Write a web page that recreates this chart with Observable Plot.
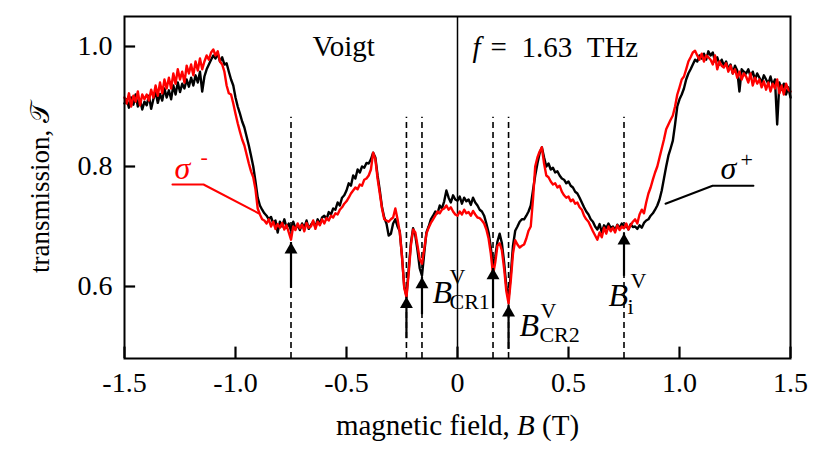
<!DOCTYPE html>
<html>
<head>
<meta charset="utf-8">
<script src="https://cdn.jsdelivr.net/npm/d3@7"></script>
<script src="https://cdn.jsdelivr.net/npm/@observablehq/plot@0.6"></script>
<style>
  html, body { margin: 0; padding: 0; background: white; }
</style>
</head>
<body>
<script>
// ---------- data ----------
const fieldStart = -1.5;   // T
const fieldStep = 0.01;    // T

// black trace (sigma+), B = -1.50 ... 1.50
const sigmaPlus = [
  0.905, 0.912, 0.898, 0.915, 0.903, 0.920, 0.900, 0.911, 0.895, 0.908,
  0.902, 0.918, 0.896, 0.912, 0.925, 0.906, 0.921, 0.910, 0.930, 0.915,
  0.927, 0.912, 0.935, 0.920, 0.940, 0.924, 0.938, 0.930, 0.945, 0.933,
  0.948, 0.935, 0.952, 0.940, 0.958, 0.925, 0.950, 0.962, 0.970, 0.978,
  0.985, 0.980, 0.988, 0.975, 0.982, 0.970, 0.972, 0.958, 0.945, 0.935,
  0.915, 0.900, 0.888, 0.875, 0.865, 0.850, 0.835, 0.818, 0.800, 0.775,
  0.748, 0.735, 0.728, 0.722, 0.718, 0.712, 0.716, 0.705, 0.710, 0.690,
  0.708, 0.700, 0.712, 0.698, 0.705, 0.693, 0.708, 0.697, 0.702, 0.694,
  0.705, 0.698, 0.710, 0.696, 0.703, 0.708, 0.699, 0.712, 0.704, 0.715,
  0.718, 0.712, 0.724, 0.720, 0.730, 0.728, 0.740, 0.735, 0.748, 0.752,
  0.760, 0.772, 0.768, 0.785, 0.780, 0.795, 0.790, 0.800, 0.798, 0.806,
  0.805, 0.812, 0.823, 0.815, 0.785, 0.760, 0.732, 0.715, 0.705, 0.685,
  0.688, 0.705, 0.712, 0.700, 0.692, 0.650, 0.600, 0.584, 0.628, 0.672,
  0.697, 0.685, 0.660, 0.630, 0.618, 0.655, 0.690, 0.700, 0.712, 0.718,
  0.725, 0.722, 0.735, 0.730, 0.742, 0.760, 0.748, 0.740, 0.752, 0.745,
  0.743, 0.750, 0.738, 0.748, 0.742, 0.745, 0.736, 0.748, 0.740, 0.735,
  0.728, 0.725, 0.718, 0.705, 0.690, 0.665, 0.635, 0.650, 0.675, 0.688,
  0.672, 0.640, 0.600, 0.580, 0.620, 0.668, 0.693, 0.700, 0.708, 0.712,
  0.712, 0.718, 0.725, 0.735, 0.760, 0.785, 0.805, 0.822, 0.832, 0.815,
  0.800, 0.805, 0.795, 0.798, 0.790, 0.792, 0.785, 0.780, 0.778, 0.772,
  0.775, 0.768, 0.765, 0.758, 0.755, 0.748, 0.740, 0.732, 0.725, 0.720,
  0.712, 0.708, 0.700, 0.695, 0.704, 0.690, 0.702, 0.697, 0.705, 0.698,
  0.700, 0.694, 0.703, 0.697, 0.705, 0.698, 0.702, 0.695, 0.704, 0.699,
  0.700, 0.696, 0.702, 0.698, 0.706, 0.710, 0.712, 0.718, 0.722, 0.728,
  0.735, 0.745, 0.760, 0.780, 0.800, 0.818, 0.830, 0.843, 0.870, 0.900,
  0.912, 0.920, 0.930, 0.945, 0.955, 0.962, 0.970, 0.978, 0.975, 0.985,
  0.980, 0.988, 0.978, 0.992, 0.985, 0.990, 0.975, 0.982, 0.970, 0.978,
  0.968, 0.975, 0.962, 0.970, 0.955, 0.968, 0.960, 0.925, 0.962, 0.958,
  0.955, 0.962, 0.950, 0.958, 0.945, 0.955, 0.948, 0.940, 0.952, 0.945,
  0.938, 0.950, 0.935, 0.945, 0.870, 0.940, 0.928, 0.938, 0.920, 0.932, 0.915
];

// red trace (sigma-), B = -1.50 ... 1.50
const sigmaMinus = [
  0.915, 0.905, 0.922, 0.900, 0.918, 0.908, 0.925, 0.902, 0.920, 0.912,
  0.920, 0.910, 0.928, 0.915, 0.935, 0.918, 0.940, 0.922, 0.945, 0.930,
  0.948, 0.930, 0.955, 0.938, 0.962, 0.945, 0.958, 0.940, 0.968, 0.955,
  0.970, 0.952, 0.975, 0.960, 0.980, 0.962, 0.975, 0.985, 0.978, 0.990,
  0.995, 0.985, 0.992, 0.975, 0.970, 0.958, 0.935, 0.922, 0.920, 0.905,
  0.888, 0.872, 0.858, 0.845, 0.835, 0.820, 0.805, 0.792, 0.782, 0.762,
  0.730, 0.720, 0.712, 0.710, 0.705, 0.712, 0.700, 0.708, 0.696, 0.704,
  0.698, 0.706, 0.695, 0.702, 0.690, 0.678, 0.700, 0.694, 0.705, 0.697,
  0.703, 0.692, 0.706, 0.698, 0.700, 0.710, 0.696, 0.708, 0.702, 0.712,
  0.705, 0.714, 0.710, 0.718, 0.715, 0.722, 0.720, 0.728, 0.732, 0.738,
  0.742, 0.748, 0.755, 0.760, 0.765, 0.762, 0.770, 0.768, 0.778, 0.780,
  0.785, 0.795, 0.823, 0.812, 0.780, 0.755, 0.730, 0.712, 0.710, 0.708,
  0.712, 0.715, 0.730, 0.712, 0.690, 0.650, 0.598, 0.582, 0.622, 0.668,
  0.695, 0.690, 0.668, 0.645, 0.638, 0.662, 0.688, 0.698, 0.706, 0.712,
  0.718, 0.725, 0.722, 0.728, 0.730, 0.735, 0.728, 0.732, 0.725, 0.720,
  0.718, 0.725, 0.720, 0.728, 0.722, 0.724, 0.718, 0.726, 0.720, 0.715,
  0.714, 0.710, 0.705, 0.695, 0.680, 0.655, 0.620, 0.640, 0.668, 0.672,
  0.660, 0.630, 0.592, 0.572, 0.610, 0.655, 0.677, 0.670, 0.665, 0.668,
  0.670, 0.680, 0.693, 0.700, 0.745, 0.800, 0.815, 0.825, 0.832, 0.805,
  0.785, 0.782, 0.775, 0.770, 0.772, 0.765, 0.768, 0.758, 0.752, 0.748,
  0.750, 0.742, 0.745, 0.738, 0.740, 0.732, 0.728, 0.718, 0.712, 0.708,
  0.700, 0.692, 0.685, 0.678, 0.690, 0.682, 0.698, 0.688, 0.700, 0.692,
  0.698, 0.690, 0.702, 0.694, 0.700, 0.697, 0.705, 0.695, 0.702, 0.708,
  0.712, 0.705, 0.720, 0.728, 0.722, 0.740, 0.755, 0.765, 0.778, 0.790,
  0.800, 0.815, 0.830, 0.845, 0.862, 0.870, 0.878, 0.885, 0.900, 0.920,
  0.932, 0.945, 0.950, 0.962, 0.975, 0.982, 0.990, 0.993, 0.985, 0.978,
  0.988, 0.975, 0.985, 0.982, 0.978, 0.970, 0.985, 0.962, 0.975, 0.968,
  0.965, 0.972, 0.958, 0.968, 0.955, 0.962, 0.948, 0.958, 0.945, 0.955,
  0.950, 0.940, 0.955, 0.935, 0.948, 0.938, 0.945, 0.932, 0.942, 0.928,
  0.940, 0.925, 0.938, 0.930, 0.945, 0.922, 0.935, 0.920, 0.938, 0.928, 0.925
];

// axes
const xDomain = [-1.5, 1.5];
const yDomain = [0.48, 1.05];
const xTicks = [-1.5, -1.0, -0.5, 0, 0.5, 1.0, 1.5];
const xTickLabels = ["-1.5", "-1.0", "-0.5", "0", "0.5", "1.0", "1.5"];
const yTicks = [0.6, 0.8, 1.0];
const yTickLabels = ["0.6", "0.8", "1.0"];
const xTickLength = 0.019;   // in transmission units (inward tick at bottom)
const yTickLength = 0.05;    // in tesla (inward tick at left)
const xLabelParts = ["magnetic field, ", "B", " (T)"];
const yLabel = "transmission, \u{1D4AF}";

// marker lines
const zeroLine = [0];
const dashedFields = [-0.75, -0.23, -0.16, 0.16, 0.23, 0.75];
const dashedTop = 0.882;

// arrows (field, tip, base)
const arrowField = [-0.75, -0.23, -0.16, 0.16, 0.23, 0.75];
const arrowTip   = [0.673, 0.582, 0.615, 0.630, 0.568, 0.688];
const arrowBase  = [0.607, 0.523, 0.563, 0.573, 0.505, 0.627];

// sigma label leader lines
const minusLeaderB = [-1.284, -1.144, -0.896];
const minusLeaderT = [0.770, 0.770, 0.722];
const plusLeaderB  = [0.937, 1.149, 1.333];
const plusLeaderT  = [0.738, 0.768, 0.768];

// text annotations
const voigtText = [{B: -0.653, T: 0.985, text: "Voigt"}];
const freqSymbol = [{B: 0.068, T: 0.982, text: "f"}];
const freqValue = [{B: 0.149, T: 0.982, text: "=\u20021.63\u2002THz"}];
const sigmaTexts = [
  {B: -1.275, T: 0.780, text: "\u03C3", color: "#ff0000"},
  {B: 1.185,  T: 0.780, text: "\u03C3", color: "black"}
];
const sigmaSups = [
  {B: -1.158, T: 0.805, text: "-", color: "#ff0000"},
  {B: 1.275,  T: 0.800, text: "+", color: "black"}
];
const fieldLabelMain = [
  {B: -0.113, T: 0.572, text: "B"},
  {B: 0.279,  T: 0.518, text: "B"},
  {B: 0.680,  T: 0.568, text: "B"}
];
const fieldLabelSup = [
  {B: -0.036, T: 0.605, text: "V"},
  {B: 0.374,  T: 0.548, text: "V"},
  {B: 0.779,  T: 0.598, text: "V"}
];
const fieldLabelSub = [
  {B: -0.036, T: 0.562, text: "CR1"},
  {B: 0.369,  T: 0.507, text: "CR2"},
  {B: 0.766,  T: 0.555, text: "i"}
];

// ---------- build tables ----------
const blackData = sigmaPlus.map((t, i) => ({B: fieldStart + i * fieldStep, T: t}));
const redData = sigmaMinus.map((t, i) => ({B: fieldStart + i * fieldStep, T: t}));
const arrows = arrowField.map((b, i) => ({B: b, tip: arrowTip[i], base: arrowBase[i]}));
const minusLeader = minusLeaderB.map((b, i) => ({B: b, T: minusLeaderT[i]}));
const plusLeader = plusLeaderB.map((b, i) => ({B: b, T: plusLeaderT[i]}));

const serif = "'Liberation Serif', 'Times New Roman', serif";

const chart = Plot.plot({
  width: 830,
  height: 459,
  marginLeft: 124,
  marginRight: 40,
  marginTop: 16,
  marginBottom: 101,
  x: {domain: xDomain},
  y: {domain: yDomain},
  style: {fontFamily: serif, fontSize: "28px", color: "black", background: "white", overflow: "visible"},
  marks: [
    Plot.axisX(xTicks, {tickSize: 0, tickPadding: 14, tickFormat: (d, i) => xTickLabels[i], label: null, fontSize: 28}),
    Plot.axisY(yTicks, {tickSize: 0, tickPadding: 12, tickFormat: (d, i) => yTickLabels[i], label: null, fontSize: 28}),
    // inward ticks
    Plot.ruleX(xTicks, {x: d => d, y1: () => yDomain[0], y2: () => yDomain[0] + xTickLength, stroke: "black", strokeWidth: 2.2}),
    Plot.ruleY(yTicks, {y: d => d, x1: () => xDomain[0], x2: () => xDomain[0] + yTickLength, stroke: "black", strokeWidth: 2.2}),
    // zero line and dashed markers
    Plot.ruleX(zeroLine, {stroke: "black", strokeWidth: 1.5}),
    Plot.ruleX(dashedFields, {y1: yDomain[0], y2: dashedTop, stroke: "black", strokeWidth: 1.6, strokeDasharray: "6,4"}),
    // data
    Plot.line(blackData, {x: "B", y: "T", stroke: "black", strokeWidth: 2.4}),
    Plot.line(redData, {x: "B", y: "T", stroke: "#ff0000", strokeWidth: 2.4}),
    // arrows
    Plot.ruleX(arrows, {x: "B", y1: "base", y2: "tip", stroke: "black", strokeWidth: 2.2, insetTop: 6}),
    Plot.dot(arrows, {x: "B", y: "tip", symbol: "triangle", r: 4.8, fill: "black", stroke: null, dy: 7}),
    // leaders
    Plot.line(minusLeader, {x: "B", y: "T", stroke: "#ff0000", strokeWidth: 2}),
    Plot.line(plusLeader, {x: "B", y: "T", stroke: "black", strokeWidth: 2}),
    // header texts
    Plot.text(voigtText, {x: "B", y: "T", text: "text", textAnchor: "start", lineAnchor: "bottom", fontSize: 29, fill: "black"}),
    Plot.text(freqSymbol, {x: "B", y: "T", text: "text", textAnchor: "start", lineAnchor: "bottom", fontSize: 29, fontStyle: "italic", fill: "black"}),
    Plot.text(freqValue, {x: "B", y: "T", text: "text", textAnchor: "start", lineAnchor: "bottom", fontSize: 29, fill: "black"}),
    Plot.text(sigmaTexts, {x: "B", y: "T", text: "text", fill: "color", textAnchor: "start", lineAnchor: "bottom", fontSize: 32, fontStyle: "italic"}),
    Plot.text(sigmaSups, {x: "B", y: "T", text: "text", fill: "color", textAnchor: "start", lineAnchor: "bottom", fontSize: 22}),
    Plot.text(fieldLabelMain, {x: "B", y: "T", text: "text", textAnchor: "start", lineAnchor: "bottom", fontSize: 32, fontStyle: "italic", fill: "black"}),
    Plot.text(fieldLabelSup, {x: "B", y: "T", text: "text", textAnchor: "start", lineAnchor: "bottom", fontSize: 22, fill: "black"}),
    Plot.text(fieldLabelSub, {x: "B", y: "T", text: "text", textAnchor: "start", lineAnchor: "bottom", fontSize: 22, fill: "black"}),
    // axis titles
    Plot.text([xLabelParts.join("")], {frameAnchor: "bottom", textAnchor: "middle", dy: 76, lineAnchor: "bottom", fontSize: 29, fill: "black"}),
    Plot.text([yLabel], {frameAnchor: "left", textAnchor: "middle", dx: -84, rotate: -90, lineAnchor: "middle", fontSize: 27, fill: "black"}),
    Plot.frame({stroke: "black", strokeWidth: 2})
  ]
});

// rich text for the x-axis title (italic B)
const xLabelText = xLabelParts.join("");
d3.select(chart).selectAll("text").filter(function () { return this.textContent === xLabelText; }).each(function () {
  const t = d3.select(this);
  t.text(null);
  t.append("tspan").text(xLabelParts[0]);
  t.append("tspan").attr("font-style", "italic").text(xLabelParts[1]);
  t.append("tspan").text(xLabelParts[2]);
});

document.body.appendChild(chart);
</script>
</body>
</html>
